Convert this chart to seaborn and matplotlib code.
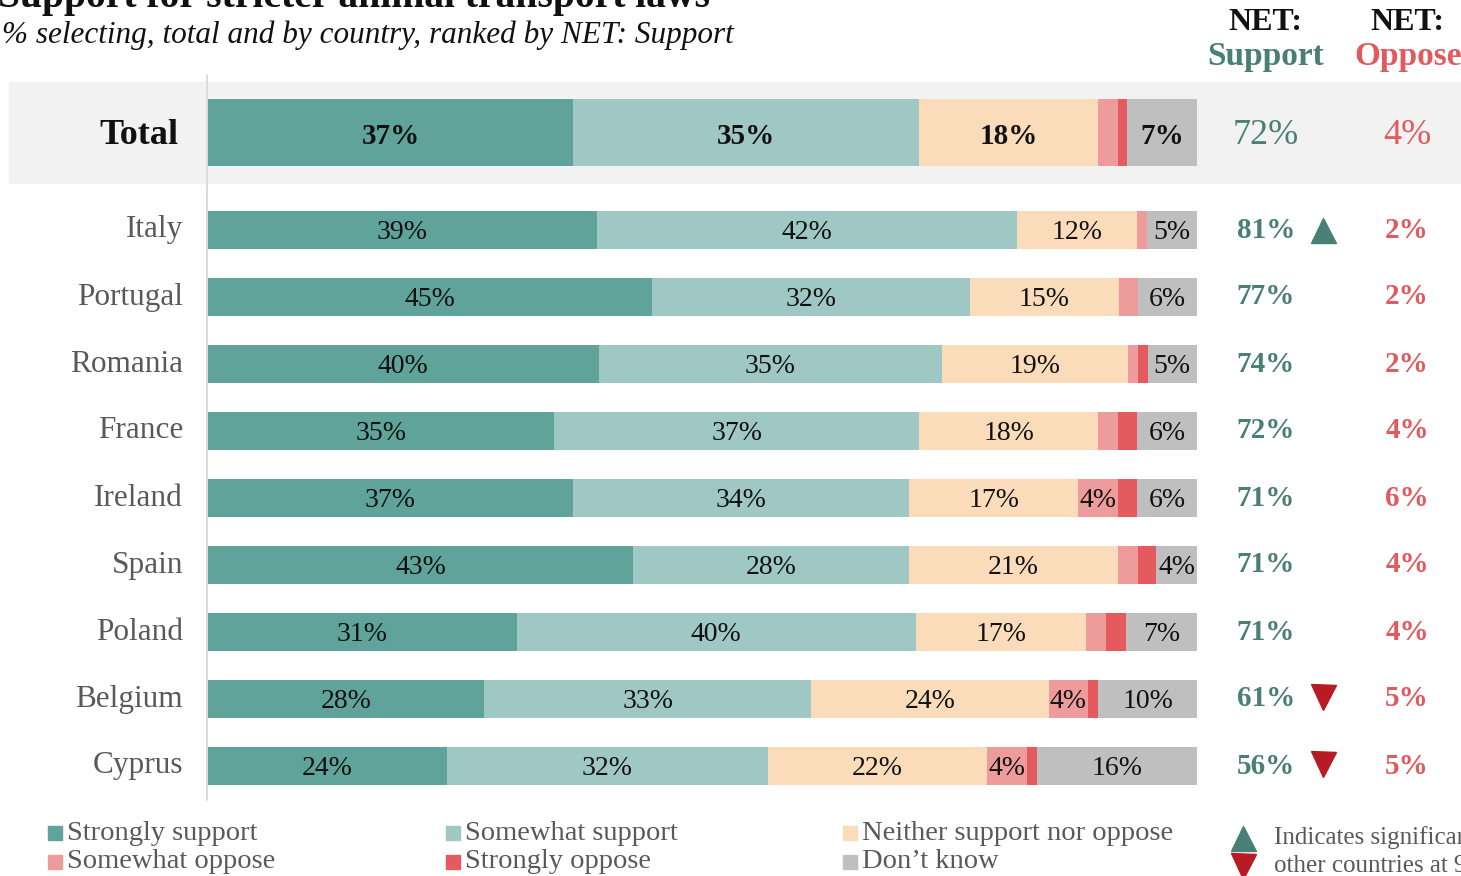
import pandas as pd
import matplotlib.pyplot as plt
import seaborn as sns
from matplotlib.patches import Rectangle
from matplotlib.lines import Line2D

countries = ["Total", "Italy", "Portugal", "Romania", "France", "Ireland",
             "Spain", "Poland", "Belgium", "Cyprus"]
strongly_support = [36.9, 39.3, 44.9, 39.5, 35.0, 36.9, 43.0, 31.2, 27.9, 24.2]
somewhat_support = [35.0, 42.5, 32.1, 34.7, 36.9, 34.0, 27.9, 40.4, 33.1, 32.4]
neither = [18.1, 12.1, 15.1, 18.8, 18.1, 17.1, 21.1, 17.2, 24.0, 22.2]
somewhat_oppose = [2.0, 1.0, 1.9, 1.0, 2.0, 4.0, 2.0, 2.0, 4.0, 4.0]
strongly_oppose = [0.9, 0.0, 0.0, 1.0, 1.9, 1.9, 1.9, 2.0, 1.0, 1.0]
dont_know = [7.1, 5.1, 6.0, 5.0, 6.1, 6.1, 4.1, 7.2, 10.0, 16.2]
net_support = [72, 81, 77, 74, 72, 71, 71, 71, 61, 56]
net_oppose = [4, 2, 2, 2, 4, 6, 4, 4, 5, 5]
significance = ["", "up", "", "", "", "", "", "", "down", "down"]

categories = ["Strongly support", "Somewhat support", "Neither support nor oppose",
              "Somewhat oppose", "Strongly oppose", "Don’t know"]
colors = ["#5fa39a", "#9fc7c3", "#fbdcba", "#ee9b9c", "#e45a5f", "#bfbfbf"]

df = pd.DataFrame({
    "country": countries,
    categories[0]: strongly_support,
    categories[1]: somewhat_support,
    categories[2]: neither,
    categories[3]: somewhat_oppose,
    categories[4]: strongly_oppose,
    categories[5]: dont_know,
})

W, H = 1461, 876
TEAL = "#4a7f75"
RED = "#e05a5e"
DARKRED = "#b71c24"
GREY = "#595959"

sns.set_style("white")
plt.rcParams["font.family"] = ["Liberation Serif", "DejaVu Serif"]

fig = plt.figure(figsize=(W / 100, H / 100), dpi=100)


def fx(px):
    return px / W


def fy(py):
    return 1 - py / H


def draw_stack(ax, sub, bar_width, bold):
    cum = sub[categories].cumsum(axis=1)
    # widest layer first, narrower ones on top
    for cat, col in reversed(list(zip(categories, colors))):
        sns.barplot(x=cum[cat].values, y=sub["country"].values, color=col,
                    width=bar_width, linewidth=0, saturation=1, orient="y", ax=ax)
    for i in range(len(sub)):
        for cat in categories:
            val = sub[cat].iloc[i]
            if val >= 3.5:
                ax.text(cum[cat].iloc[i] - val / 2, i + 0.04, f"{val:.0f}%",
                        ha="center", va="center", color="#111111",
                        fontsize=21 if bold else 20,
                        fontweight="bold" if bold else "normal")
    ax.set_xlim(0, 100)
    ax.set_ylim(len(sub) - 0.5, -0.5)
    ax.axis("off")


# grey band behind the Total row
fig.add_artist(Rectangle((fx(9), fy(183)), fx(W - 9), 101 / H,
                         transform=fig.transFigure, color="#f2f2f2", zorder=-1))

ax_total = fig.add_axes([fx(208), fy(183), 989 / W, 101 / H])
draw_stack(ax_total, df.iloc[:1], 68 / 101, True)

ax_c = fig.add_axes([fx(208), fy(799.5), 989 / W, 603 / H])
draw_stack(ax_c, df.iloc[1:].reset_index(drop=True), 38 / 67, False)

fig.add_artist(Line2D([fx(207), fx(207)], [fy(75), fy(800)],
                      transform=fig.transFigure, color="#d9d9d9", lw=1.3))

# row labels and NET columns
row_y = [135] + [230 + 67 * i for i in range(9)]
for i, c in enumerate(countries):
    y = fy(row_y[i])
    if i == 0:
        fig.text(fx(178), y, c, ha="right", va="center", fontsize=26,
                 fontweight="bold", color="#111111")
        fig.text(fx(1266), y, f"{net_support[i]}%", ha="center", va="center",
                 fontsize=26, fontweight="medium", color=TEAL)
        fig.text(fx(1407), y, f"{net_oppose[i]}%", ha="center", va="center",
                 fontsize=26, fontweight="medium", color=RED)
    else:
        fig.text(fx(183), y, c, ha="right", va="center", fontsize=22.5, color=GREY)
        fig.text(fx(1266), y, f"{net_support[i]}%", ha="center", va="center",
                 fontsize=21, fontweight="bold", color=TEAL)
        fig.text(fx(1407), y, f"{net_oppose[i]}%", ha="center", va="center",
                 fontsize=21, fontweight="bold", color=RED)
    if significance[i] == "up":
        fig.add_artist(Line2D([fx(1323)], [fy(row_y[i])], marker="^", markersize=18,
                              color=TEAL, transform=fig.transFigure))
    elif significance[i] == "down":
        fig.add_artist(Line2D([fx(1323)], [fy(row_y[i] - 2)], marker="v", markersize=18,
                              color=DARKRED, transform=fig.transFigure))

# column headers
fig.text(fx(1265), fy(22), "NET:", ha="center", va="center", fontsize=23,
         fontweight="bold", color="#111111")
fig.text(fx(1266), fy(57), "Support", ha="center", va="center", fontsize=24,
         fontweight="bold", color=TEAL)
fig.text(fx(1407), fy(22), "NET:", ha="center", va="center", fontsize=23,
         fontweight="bold", color="#111111")
fig.text(fx(1408), fy(57), "Oppose", ha="center", va="center", fontsize=24,
         fontweight="bold", color=RED)

# title and subtitle
fig.text(fx(-2), fy(7), "Support for stricter animal transport laws", ha="left",
         va="baseline", fontsize=28.5, fontweight="bold", color="#111111")
fig.text(fx(2), fy(43), "% selecting, total and by country, ranked by NET: Support",
         ha="left", va="baseline", fontsize=22.5, style="italic", color="#111111")

# legend
leg_x = [48, 446, 843]
leg_y = [833, 862]
for k, (cat, col) in enumerate(zip(categories, colors)):
    x = leg_x[k % 3]
    y = leg_y[k // 3]
    fig.add_artist(Rectangle((fx(x), fy(y + 7)), 14 / W, 14 / H,
                             transform=fig.transFigure, color=col))
    fig.text(fx(x + 19), fy(y), cat, ha="left", va="center", fontsize=20.5, color=GREY)

fig.add_artist(Line2D([fx(1243)], [fy(838)], marker="^", markersize=18,
                      color=TEAL, transform=fig.transFigure))
fig.add_artist(Line2D([fx(1243)], [fy(866)], marker="v", markersize=18,
                      color=DARKRED, transform=fig.transFigure))
fig.text(fx(1274), fy(838), "Indicates significantly higher / lower than",
         ha="left", va="center", fontsize=18, color=GREY)
fig.text(fx(1274), fy(866), "other countries at 95% confidence",
         ha="left", va="center", fontsize=18, color=GREY)

fig.savefig("out.png", dpi=100)
